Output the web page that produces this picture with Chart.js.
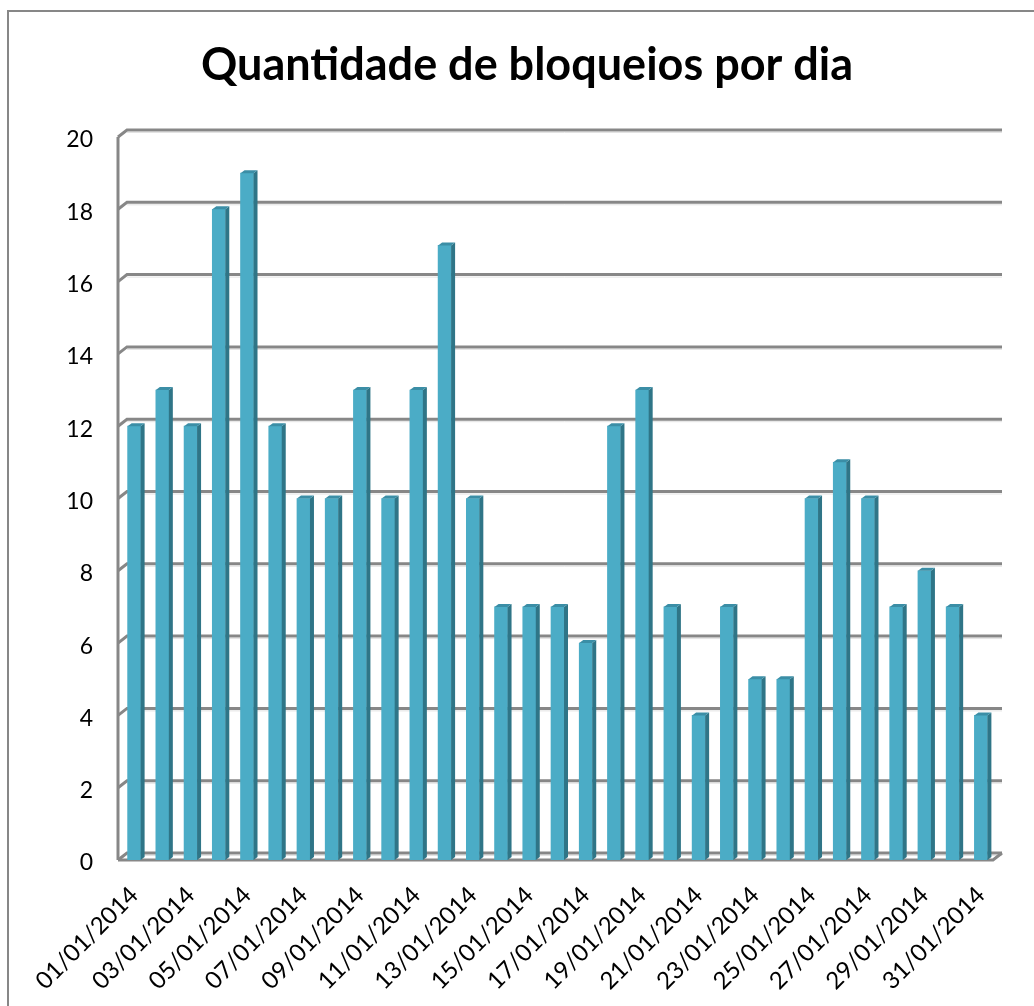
<!DOCTYPE html>
<html><head><meta charset="utf-8">
<script src="https://cdn.jsdelivr.net/npm/chart.js@4/dist/chart.umd.min.js"></script>
<style>html,body{margin:0;padding:0;background:#fff}canvas{display:block}</style>
</head><body>
<canvas id="c" width="1034" height="1006"></canvas>
<script>
const chartTitle = 'Quantidade de bloqueios por dia';
const categories = ['01/01/2014','02/01/2014','03/01/2014','04/01/2014','05/01/2014','06/01/2014','07/01/2014','08/01/2014','09/01/2014','10/01/2014','11/01/2014','12/01/2014','13/01/2014','14/01/2014','15/01/2014','16/01/2014','17/01/2014','18/01/2014','19/01/2014','20/01/2014','21/01/2014','22/01/2014','23/01/2014','24/01/2014','25/01/2014','26/01/2014','27/01/2014','28/01/2014','29/01/2014','30/01/2014','31/01/2014'];
const values = [12,13,12,18,19,12,10,10,13,10,13,17,10,7,7,7,6,12,13,7,4,7,5,5,10,11,10,7,8,7,4];
const yTicks = [0,2,4,6,8,10,12,14,16,18,20];

const FONT = 'Lato, "Open Sans", "Liberation Sans", sans-serif';
const mctx = document.createElement('canvas').getContext('2d');
mctx.font = 'bold 40px ' + FONT;
const titleSize = Math.round(40 * 655 / mctx.measureText(chartTitle).width);

const DX = 9, DY = 7;   // wall depth
const BX = 4, BY = 3;   // bar depth

const frame3d = {
  id: 'frame3d',
  beforeDraw(chart) {
    const c = chart.ctx;
    c.save();
    c.fillStyle = '#fff';
    c.fillRect(0, 0, chart.width, chart.height);
    c.strokeStyle = '#878787';
    c.lineWidth = 2;
    c.beginPath();
    c.moveTo(8, chart.height + 5);
    c.lineTo(8, 11);
    c.lineTo(chart.width + 5, 11);
    c.stroke();
    c.fillStyle = '#000';
    c.font = 'bold ' + titleSize + 'px ' + FONT;
    c.textAlign = 'center';
    c.textBaseline = 'alphabetic';
    c.fillText(chartTitle, 527, 80);
    c.restore();
  },
  beforeDatasetsDraw(chart) {
    const c = chart.ctx, ys = chart.scales.y, ca = chart.chartArea;
    const L = ca.left - 2, R = ca.right - 2;
    const yTop = ys.getPixelForValue(yTicks[yTicks.length - 1]);
    const y0 = ys.getPixelForValue(0);
    c.save();
    c.lineCap = 'butt';
    c.strokeStyle = '#e3e3e3';
    c.lineWidth = 1;
    yTicks.forEach(v => {
      const py = ys.getPixelForValue(v);
      c.beginPath();
      c.moveTo(L + DX, py - DY + 2.5);
      c.lineTo(R + DX, py - DY + 2.5);
      c.stroke();
    });
    c.strokeStyle = '#878787';
    c.lineWidth = 3;
    yTicks.forEach(v => {
      const py = ys.getPixelForValue(v);
      c.beginPath();
      c.moveTo(L, py);
      c.lineTo(L + DX, py - DY);
      c.lineTo(R + DX, py - DY);
      c.stroke();
    });
    c.beginPath();
    c.moveTo(L, yTop);
    c.lineTo(L, y0);
    c.stroke();
    c.beginPath();
    c.moveTo(L, y0);
    c.lineTo(R, y0);
    c.lineTo(R + DX, y0 - DY);
    c.stroke();
    c.restore();
  },
  afterDatasetsDraw(chart) {
    const c = chart.ctx;
    const meta = chart.getDatasetMeta(0);
    c.save();
    meta.data.forEach(bar => {
      const p = bar.getProps(['x', 'y', 'base', 'width'], true);
      const l = p.x - p.width / 2, r = p.x + p.width / 2;
      c.fillStyle = '#2f7587';
      c.beginPath();
      c.moveTo(r, p.y);
      c.lineTo(r + BX, p.y - BY);
      c.lineTo(r + BX, p.base - BY);
      c.lineTo(r, p.base);
      c.closePath();
      c.fill();
      c.fillStyle = '#3b8ea6';
      c.beginPath();
      c.moveTo(l, p.y);
      c.lineTo(l + BX, p.y - BY);
      c.lineTo(r + BX, p.y - BY);
      c.lineTo(r, p.y);
      c.closePath();
      c.fill();
    });
    c.restore();
  }
};

new Chart(document.getElementById('c'), {
  type: 'bar',
  data: {
    labels: categories,
    datasets: [{
      data: values,
      backgroundColor: '#4bacc6',
      borderWidth: 0,
      barThickness: 13
    }]
  },
  options: {
    responsive: false,
    animation: false,
    devicePixelRatio: 1,
    layout: { padding: { left: 0, right: 39, top: 137, bottom: 0 } },
    plugins: {
      legend: { display: false },
      tooltip: { enabled: false },
      title: { display: false }
    },
    scales: {
      x: {
        grid: { display: false, drawTicks: false },
        border: { display: false },
        ticks: {
          autoSkip: false,
          minRotation: 45,
          maxRotation: 45,
          padding: 21,
          color: '#000',
          font: { family: FONT, size: 24 },
          callback: (v, i) => (i % 2 === 0 ? categories[i] : '')
        },
        afterFit: s => { s.height = 146; }
      },
      y: {
        min: 0,
        max: 20,
        grid: { display: false, drawTicks: false },
        border: { display: false },
        ticks: {
          stepSize: 2,
          padding: 27,
          labelOffset: 3,
          color: '#000',
          font: { family: FONT, size: 23 }
        },
        afterFit: s => { s.width = 120; }
      }
    }
  },
  plugins: [frame3d]
});
</script>
</body></html>
